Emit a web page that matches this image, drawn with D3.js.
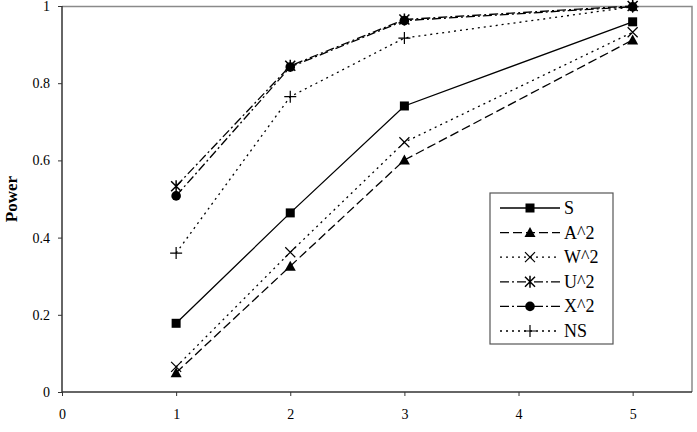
<!DOCTYPE html>
<html>
<head>
<meta charset="utf-8">
<script src="https://cdn.jsdelivr.net/npm/d3@7"></script>
<style>
  body { margin: 0; background: #fff; }
  svg text { font-family: "Liberation Serif", serif; fill: #000; }
</style>
</head>
<body>
<div id="vis"></div>
<script>
var xVals = [1, 2, 3, 5];
var seriesNames = ['S', 'A^2', 'W^2', 'U^2', 'X^2', 'NS'];
var sVals  = [0.178, 0.464, 0.741, 0.959];
var a2Vals = [0.050, 0.326, 0.601, 0.912];
var w2Vals = [0.065, 0.362, 0.647, 0.932];
var u2Vals = [0.533, 0.845, 0.965, 1.000];
var x2Vals = [0.508, 0.842, 0.962, 0.998];
var nsVals = [0.360, 0.765, 0.917, 0.998];
var xTicks = [0, 1, 2, 3, 4, 5];
var yTicks = [0, 0.2, 0.4, 0.6, 0.8, 1];

var series = [
    {name: seriesNames[0], values: sVals,  dash: null,         marker: 'square'},
    {name: seriesNames[1], values: a2Vals, dash: '9,4',        marker: 'triangle'},
    {name: seriesNames[2], values: w2Vals, dash: '2,4',        marker: 'x'},
    {name: seriesNames[3], values: u2Vals, dash: '9,3,2,3',    marker: 'star'},
    {name: seriesNames[4], values: x2Vals, dash: '9,3,2,3',    marker: 'circle'},
    {name: seriesNames[5], values: nsVals, dash: '2,4',        marker: 'plus'}
];

var margin = {left: 62, top: 6, right: 5, bottom: 40};
var width = 697, height = 432;
var drawWidth = width - margin.left - margin.right,
    drawHeight = height - margin.top - margin.bottom;

var svg = d3.select('#vis').append('svg')
            .attr('width', width)
            .attr('height', height)
            .attr('font-family', 'Liberation Serif');
var g = svg.append('g')
           .attr('transform', `translate(${margin.left}, ${margin.top})`);

var xScale = d3.scaleLinear().domain([0, 5.52]).range([0, drawWidth]);
var yScale = d3.scaleLinear().domain([0, 1]).range([drawHeight, 0]);

// frame top/right
g.append('path')
 .attr('d', `M0,0.5H${drawWidth}V${drawHeight}`)
 .attr('fill', 'none')
 .attr('stroke', '#8a8a8a')
 .attr('stroke-width', 1.5);

var xAxis = d3.axisBottom(xScale).tickValues(xTicks).tickFormat(d3.format('d')).tickSize(4).tickPadding(13);
var yAxis = d3.axisLeft(yScale).tickValues(yTicks).tickFormat((d) => d === 0 || d === 1 ? d : d3.format('.1f')(d)).tickSize(4).tickPadding(8);

var xg = g.append('g').attr('transform', `translate(0, ${drawHeight})`).call(xAxis);
var yg = g.append('g').call(yAxis);
[xg, yg].forEach((ax) => {
    ax.attr('font-family', null).attr('font-size', null);
    ax.select('.domain').attr('stroke', '#333').attr('stroke-width', 1.5);
    ax.selectAll('.tick line').attr('stroke', '#333');
    ax.selectAll('text').style('font-size', '14px').attr('fill', '#000');
});
xg.select('.domain').attr('d', `M0,0H${drawWidth}`);
yg.select('.domain').attr('d', `M0,${drawHeight}V0`);

svg.append('text')
   .attr('transform', `translate(17, ${margin.top + 193}) rotate(-90)`)
   .attr('text-anchor', 'middle')
   .style('font-size', '17px')
   .style('font-weight', 'bold')
   .text('Power');

var line = d3.line().x((d) => xScale(d[0])).y((d) => yScale(d[1]));

function drawMarker(sel, type, x, y) {
    var m = sel.append('g').attr('transform', `translate(${x}, ${y})`);
    switch (type) {
        case 'square':
            m.append('rect').attr('x', -4.5).attr('y', -4.5).attr('width', 9).attr('height', 9).attr('fill', '#000');
            break;
        case 'triangle':
            m.append('path').attr('d', 'M0,-5.5L5.5,4.5L-5.5,4.5Z').attr('fill', '#000');
            break;
        case 'x':
            m.append('path').attr('d', 'M-5,-5L5,5M-5,5L5,-5').attr('stroke', '#000').attr('stroke-width', 1.2);
            break;
        case 'star':
            m.append('path').attr('d', 'M-5,-5L5,5M-5,5L5,-5M0,-6V6').attr('stroke', '#000').attr('stroke-width', 1.5);
            break;
        case 'circle':
            m.append('circle').attr('r', 4.8).attr('fill', '#000');
            break;
        case 'plus':
            m.append('path').attr('d', 'M-6,0H6M0,-6V6').attr('stroke', '#000').attr('stroke-width', 1.2);
            break;
    }
}

series.forEach((s) => {
    var pts = xVals.map((x, i) => [x, s.values[i]]);
    g.append('path')
     .datum(pts)
     .attr('d', line)
     .attr('fill', 'none')
     .attr('stroke', '#000')
     .attr('stroke-width', 1.3)
     .attr('stroke-dasharray', s.dash);
    pts.forEach((p) => drawMarker(g, s.marker, xScale(p[0]), yScale(p[1])));
});

// legend
var legend = svg.append('g').attr('transform', 'translate(490, 193)');
legend.append('rect')
      .attr('width', 123).attr('height', 151)
      .attr('fill', '#fff').attr('stroke', '#555').attr('stroke-width', 1.2);
series.forEach((s, i) => {
    var y = 15 + i * 24.6;
    legend.append('line')
          .attr('x1', 10).attr('x2', 70).attr('y1', y).attr('y2', y)
          .attr('stroke', '#000').attr('stroke-width', 1.3)
          .attr('stroke-dasharray', s.dash);
    drawMarker(legend, s.marker, 40, y);
    legend.append('text')
          .attr('x', 74).attr('y', y + 6)
          .style('font-size', '18px')
          .text(s.name);
});
</script>
</body>
</html>
